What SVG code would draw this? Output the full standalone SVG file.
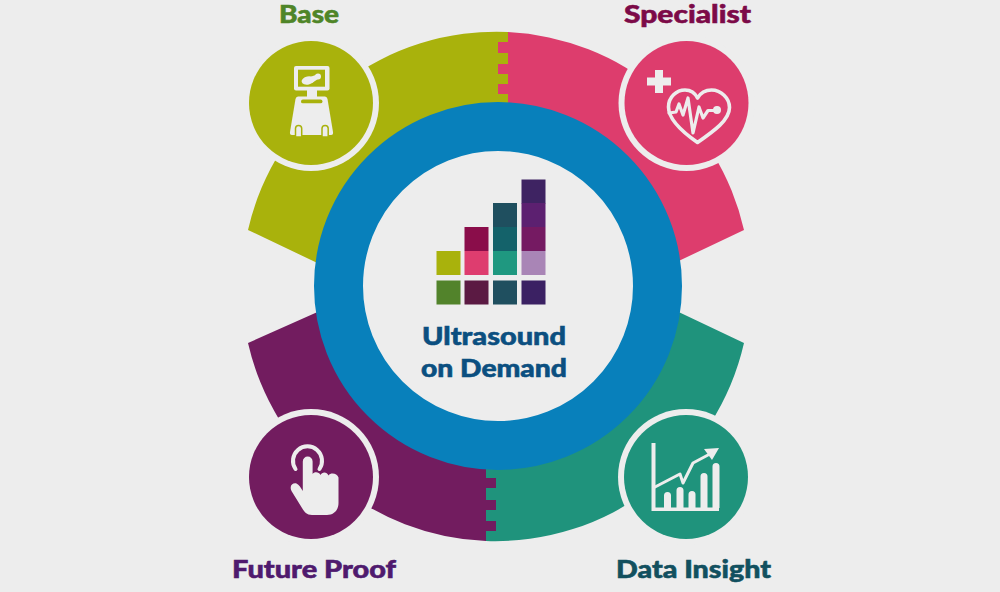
<svg xmlns="http://www.w3.org/2000/svg" width="1000" height="592" viewBox="0 0 1000 592">
<style>
.t{font-family:"Lato","Noto Sans","Liberation Sans",sans-serif;font-weight:900;font-size:24px;stroke-width:.55px}
.halo{fill:#ededed}
.w{fill:#ededed}
.l{fill:none;stroke:#ededed;stroke-linejoin:round;stroke-linecap:round}
</style>
<rect width="1000" height="592" fill="#ededed"/>
<g id="node-base">
<path fill="#a9b20c" d="M248,230A255,255 0 0 1 508,32V116A170,170 0 0 0 330,269Z"/>
<circle class="halo" cx="311" cy="103" r="68"/>
<circle fill="#a9b20c" cx="311" cy="103" r="62"/>
<g id="icon-base">
<rect class="w" x="294" y="66" width="35.500" height="24.500" rx="2"/>
<rect fill="#a9b20c" x="298" y="69.700" width="27" height="17"/>
<ellipse class="w" cx="308" cy="80.500" rx="6.500" ry="4" transform="rotate(-12 308 80.500)"/>
<circle class="w" cx="318" cy="76.500" r="3"/>
<path class="w" d="M310,77L317,74.500L318,79L312,83Z"/>
<rect class="w" x="307" y="90" width="10" height="7"/>
<path class="w" d="M298,96.500H325Q327,96.500 327.500,99L333,132Q333.500,135 331,135H292Q289.500,135 290,132L295.500,99Q296,96.500 298,96.500Z"/>
<rect fill="#a9b20c" x="301" y="99.500" width="21.500" height="3.800" rx="1.900"/>
<path class="w" stroke="#a9b20c" stroke-width="1.500" d="M295.500,137V128.500A3.100,3.100 0 0 1 301.700,128.500V137Z"/>
<path class="w" stroke="#a9b20c" stroke-width="1.500" d="M322,137V128.500A3.100,3.100 0 0 1 328.200,128.500V137Z"/>
</g>
</g>
<g id="node-specialist">
<path fill="#dd3d6d" d="M508,32A255,255 0 0 1 744,230L666,267A170,170 0 0 0 508,116V94H498V84H508V74H498V64H508V53H498V42H508Z"/>
<circle class="halo" cx="686.500" cy="103" r="68"/>
<circle fill="#dd3d6d" cx="686.500" cy="103" r="62"/>
<g id="icon-specialist">
<path class="w" d="M655,70H663V77.500H671V85.500H663V93H655V85.500H647V77.500H655Z"/>
<path class="l" stroke-width="3.600" d="M697.500,142.500C681,131 668.500,119 668.500,107C668.500,97 676.500,90 685,90C690,90 695,93 697.500,98C700.500,93 705.500,90 711.500,90C721,90 729.500,98 729.500,107.500C729.500,120 714,131 697.500,142.500Z"/>
<path class="l" stroke-width="3.200" d="M669,113L676,112L679,104L683,115L688,98L693,133L699,107L703,118L708,110.500H716"/>
<circle class="w" cx="717" cy="110" r="4"/>
</g>
</g>
<g id="node-data-insight">
<path fill="#1f937c" d="M744,343A255,255 0 0 1 486,541V450A170,170 0 0 0 666,306Z"/>
<circle class="halo" cx="686" cy="477" r="68"/>
<circle fill="#1f937c" cx="686" cy="477" r="62"/>
<g id="icon-data-insight">
<path class="w" d="M651.500,443H655.500V507.500H719V511H651.500Z"/>
<path class="w" d="M664,508V495.500A3.500,3.500 0 0 1 671,495.500V508ZM676.500,508V490.500A3.500,3.500 0 0 1 683.500,490.500V508ZM688.500,508V494.500A3.500,3.500 0 0 1 695.500,494.500V508ZM700.500,508V476.500A3.500,3.500 0 0 1 707.500,476.500V508ZM712.500,508V466.500A3.500,3.500 0 0 1 719.500,466.500V508Z"/>
<path class="l" stroke-width="3" d="M655,487L680,474L683,483L693,463L708,455"/>
<path class="w" d="M719,448L704,449L712,460Z"/>
</g>
</g>
<g id="node-future-proof">
<path fill="#721c5f" d="M248,343A255,255 0 0 0 486,541V531H496V521H486V510H496V500H486V488H496V478H486V450A170,170 0 0 1 331,306Z"/>
<circle class="halo" cx="311" cy="477" r="68"/>
<circle fill="#721c5f" cx="311" cy="477" r="62"/>
<g id="icon-future-proof">
<path class="l" stroke-width="4" d="M295.500,469A14.500,14.500 0 1 1 319.500,469"/>
<path class="w" d="M302.800,461.500A4.900,4.900 0 0 1 312.600,461.500V474C314,471.500 319,471.500 320.500,475C322,471.500 327,471.500 328.500,475.500C330.500,472.500 337,473 338.500,477.500V503C338.500,510 334,515 327,515H312C306.500,515 304.500,512 302,508L291.500,491C289,486 292.500,482.500 296.500,483.500C299,484.500 301,488 302.800,491Z"/>
</g>
</g>
<g id="hub">
<circle cx="498" cy="286" r="159.500" fill="none" stroke="#0880bb" stroke-width="49"/>
<g id="hub-bars">
<rect x="436.500" y="251" width="24" height="24" fill="#a9b20c"/>
<rect x="436.500" y="280.500" width="24" height="24" fill="#52832b"/>
<rect x="464.500" y="227" width="24" height="24" fill="#8a0d4a"/>
<rect x="464.500" y="251" width="24" height="24" fill="#de3d6f"/>
<rect x="464.500" y="280.500" width="24" height="24" fill="#5b1a43"/>
<rect x="493" y="203" width="24" height="24" fill="#1f4f5f"/>
<rect x="493" y="227" width="24" height="24" fill="#14626a"/>
<rect x="493" y="251" width="24" height="24" fill="#1f9880"/>
<rect x="493" y="280.500" width="24" height="24" fill="#1f4f5f"/>
<rect x="521.500" y="179.500" width="24" height="24" fill="#3e2362"/>
<rect x="521.500" y="203" width="24" height="24" fill="#5c2070"/>
<rect x="521.500" y="227" width="24" height="24" fill="#751a62"/>
<rect x="521.500" y="251" width="24" height="24" fill="#a985b6"/>
<rect x="521.500" y="280.500" width="24" height="24" fill="#3b2163"/>
</g>
<text class="t" x="422" y="345" textLength="144" lengthAdjust="spacingAndGlyphs" fill="#0b4f80" stroke="#0b4f80">Ultrasound</text>
<text class="t" x="421" y="377" textLength="146" lengthAdjust="spacingAndGlyphs" fill="#0b4f80" stroke="#0b4f80">on Demand</text>
</g>
<g id="labels">
<text class="t" x="279" y="23" textLength="60" lengthAdjust="spacingAndGlyphs" fill="#4f8528" stroke="#4f8528">Base</text>
<text class="t" x="624" y="23" textLength="127" lengthAdjust="spacingAndGlyphs" fill="#7c0a48" stroke="#7c0a48">Specialist</text>
<text class="t" x="232" y="578" textLength="164" lengthAdjust="spacingAndGlyphs" fill="#4f1a6e" stroke="#4f1a6e">Future Proof</text>
<text class="t" x="616" y="578" textLength="155" lengthAdjust="spacingAndGlyphs" fill="#12505f" stroke="#12505f">Data Insight</text>
</g>
</svg>
